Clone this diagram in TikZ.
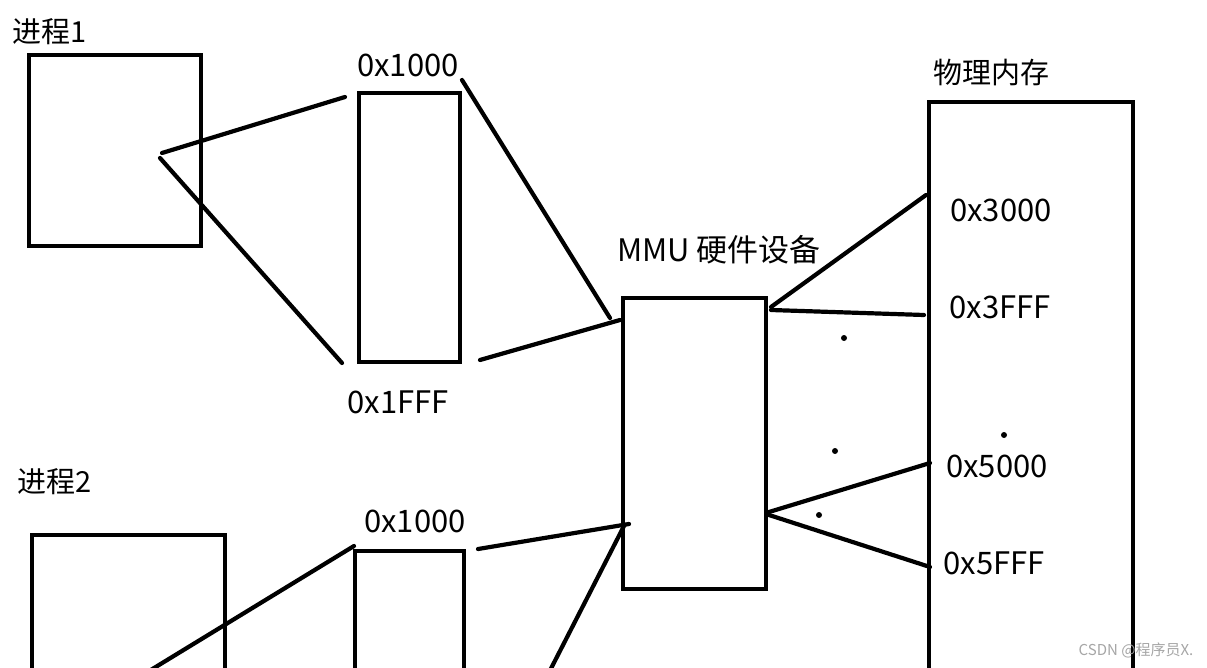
\documentclass[tikz,border=0pt]{standalone}
\usepackage{fontspec}
\newfontfamily\cjk{Noto Sans CJK SC}
\usetikzlibrary{positioning}

\begin{document}
\begin{tikzpicture}[
  x=1pt,y=-1pt,
  box/.style={draw,line width=4.2pt,inner sep=0pt},
  txt/.style={font=\cjk\fontsize{29}{31}\selectfont,inner sep=0pt},
  addr/.style={font=\cjk\fontsize{31}{33}\selectfont,inner sep=0pt},
  link/.style={line width=4.2pt,line cap=round},
  spot/.style={circle,fill,inner sep=0pt,minimum size=6pt}
]
  \useasboundingbox (0,0) rectangle (1207,668);
  \clip (0,0) rectangle (1207,668);
  \fill[white] (0,0) rectangle (1207,668);

  % process 1 and its page
  \node[txt] (name1) at (50,32) {进程1};
  \node[box,minimum width=172pt,minimum height=191pt] (proc1) at (115,150.5) {};
  \node[box,minimum width=101pt,minimum height=269pt] (page1) at (409.5,227.5) {};
  \node[addr] (lo1) at (408,65) {0x1000};
  \node[addr] (hi1) at (398,402) {0x1FFF};

  % process 2 and its page
  \node[txt] (name2) at (55,482) {进程2};
  \node[box,minimum width=193pt,minimum height=185pt] (proc2) at (128.5,627.5) {};
  \node[box,minimum width=109pt,minimum height=169pt] (page2) at (409.5,635.5) {};
  \node[addr] (lo2) at (415,521) {0x1000};

  % mmu
  \node[box,minimum width=143pt,minimum height=291pt] (mmu) at (694.5,443.5) {};
  \node[txt,font=\cjk\fontsize{31}{33}\selectfont] (mmuname) at (719,250) {MMU 硬件设备};

  % physical memory
  \node[box,minimum width=204pt,minimum height=618pt] (ram) at (1031,411) {};
  \node[txt] (ramname) at (991,73) {物理内存};
  \node[addr] (a3000) at (1001,210) {0x3000};
  \node[addr] (a3fff) at (1000,307) {0x3FFF};
  \node[addr] (a5000) at (997,466) {0x5000};
  \node[addr] (a5fff) at (994,563) {0x5FFF};

  % end points of the links
  \coordinate (p1a) at (162,153);
  \coordinate (p1b) at (160,158);
  \coordinate (v1a) at (345,97);
  \coordinate (v1b) at (342,363);
  \coordinate (v1c) at (462,80);
  \coordinate (v1d) at (480,360);
  \coordinate (m1a) at (610,318);
  \coordinate (m1b) at (620,320);
  \coordinate (m2a) at (629,524);
  \coordinate (m2b) at (624,526);
  \coordinate (p2a) at (118,690);
  \coordinate (v2a) at (354,546);
  \coordinate (v2b) at (478,549);
  \coordinate (v2c) at (540,690);
  \coordinate (mo1) at (771,307);
  \coordinate (mo2) at (771,310);
  \coordinate (mo3) at (769,512);
  \coordinate (mo4) at (769,515);
  \coordinate (r3000) at (926,195);
  \coordinate (r3fff) at (924,315);
  \coordinate (r5000) at (930,463);
  \coordinate (r5fff) at (930,567);

  \draw[link] (p1a) -- (v1a);
  \draw[link] (p1b) -- (v1b);
  \draw[link] (v1c) -- (m1a);
  \draw[link] (v1d) -- (m1b);
  \draw[link] (p2a) -- (v2a);
  \draw[link] (v2b) -- (m2a);
  \draw[link] (v2c) -- (m2b);
  \draw[link] (mo1) -- (r3000);
  \draw[link] (mo2) -- (r3fff);
  \draw[link] (mo3) -- (r5000);
  \draw[link] (mo4) -- (r5fff);

  % stray dots
  \node[spot] (d1) at (844,338) {};
  \node[spot] (d2) at (835,451) {};
  \node[spot] (d3) at (819,515) {};
  \node[spot] (d4) at (1004,435) {};

  \node[font=\cjk\fontsize{15}{16}\selectfont,text=gray!70,inner sep=0pt] (mark) at (1136,650) {CSDN @程序员X.};
\end{tikzpicture}
\end{document}
